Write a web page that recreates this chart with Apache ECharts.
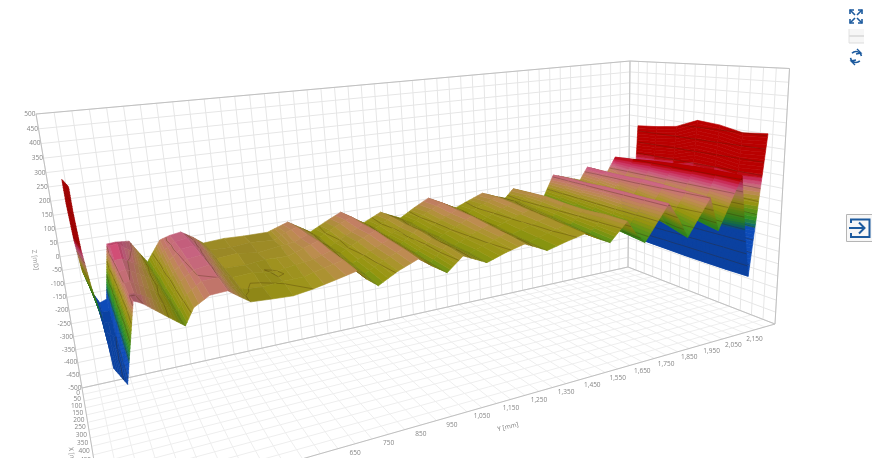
<!DOCTYPE html><html><head><meta charset="utf-8"><style>html,body{margin:0;background:#fff}#c{width:872px;height:458px}</style>
<script src="https://cdn.jsdelivr.net/npm/echarts@6/dist/echarts.min.js"></script></head><body><div id="c"></div><script>
// ---- values ----
const yTicks=[650,750,850,950,1050,1150,1250,1350,1450,1550,1650,1750,1850,1950,2050,2150];
const xTicks=[0,50,100,150,200,250,300,350,400,450];
const zTicks=[-500,-450,-400,-350,-300,-250,-200,-150,-100,-50,0,50,100,150,200,250,300,350,400,450,500];
const yBack=[39,40,45,54,74,89,110,134,158,198,220,243,288,319,354,389,419,486,549,629,665,700,739,775,829,888,926,969,1002,1035,1074,1110,1166,1224,1279,1332,1391,1447,1498,1546,1582,1647,1717,1765,1831,1892,1927,2025,2065,2112,2154,2179];
const yFront=[51,52,57,67,80,76,101,141,152,163,207,252,277,319,364,391,418,473,529,584,647,709,734,767,828,891,933,978,1007,1031,1072,1108,1175,1238,1281,1317,1388,1457,1506,1552,1618,1654,1691,1786,1831,1870,1964,2005,2104,2129,2154,2215];
const xEnd=[260,260,260,300,380,710,710,710,710,710,710,710,710,710,710,710,710,710,710,710,710,710,710,710,710,710,710,710,710,710,710,710,710,710,710,710,710,710,710,710,710,710,710,710,710,710,710,710,710,710,710,710];
const zRows=[
[296,296,296,296,296,296,296],[214,214,214,214,214,214,214],[89,89,89,89,89,89,89],[-21,-21,-21,-21,-21,-21,-21],[-106,-106,-106,-106,-106,-106,-106],
[-143,-140,-135,-130,-125,-118,-112],[-134,-140,-145,-150,-155,-160,-165],[58,78,58,52,50,48,64],[60,82,60,56,50,48,58],[56,50,40,40,36,40,50],
[14,18,12,16,8,10,8],[-28,-30,-26,-32,-28,-30,-34],[43,36,30,26,24,18,13],[54,58,60,56,52,48,40],[60,64,64,60,58,50,43],
[34,42,38,30,24,18,20],[7,10,8,4,6,2,-2],[12,6,14,4,10,-4,-6],[9,12,4,10,-2,2,-9],[9,6,14,8,10,4,0],
[22,28,20,26,18,20,14],[35,40,38,42,36,34,29],[8,14,10,8,4,0,-2],[-17,-12,-18,-14,-20,-24,-30],[12,18,12,16,10,8,4],
[41,46,42,44,38,36,30],[12,16,10,8,6,2,-2],[-16,-12,-18,-20,-24,-30,-33],[0,4,-2,2,-4,-2,-8],[16,20,18,22,16,18,12],
[-4,0,-6,-2,-8,-6,-8],[-21,-18,-22,-20,-24,-22,-26],[12,16,10,8,4,0,-4],[42,44,38,36,28,22,12],[10,14,8,6,-2,-4,-8],
[-17,-14,-20,-18,-22,-24,-26],[6,10,6,2,-2,-4,-8],[27,32,28,22,18,12,7],[6,8,2,-4,-10,-18,-20],[-10,-6,-14,-20,-28,-36,-43],
[25,28,30,24,20,24,22],[-4,-6,-10,-14,-20,-24,-30],[-37,-40,-44,-50,-56,-62,-69],[57,60,58,62,60,58,58],[36,30,24,16,12,6,-10],
[16,10,0,-20,-40,-60,-84],[69,66,64,66,62,56,51],[32,10,-10,-30,-50,-66,-82],[95,100,108,112,116,116,113],[-200,-190,-170,-150,-135,-122,-115],
[-290,-292,-294,-296,-296,-296,-294],[223,230,242,278,270,250,258]];
// ---- camera: pixel corners of the box ----
const A=[82,388],B=[36,114],C=[628,267],D=[630,61],E=[775,324];
const Ymin=0,Ymax=2250,Xmax=750,xBackPos=130,gridStep=50;
function solve3(M,b){const m=M.map((r,i)=>[...r,b[i]]);for(let i=0;i<3;i++){let p=i;for(let k=i;k<3;k++)if(Math.abs(m[k][i])>Math.abs(m[p][i]))p=k;[m[i],m[p]]=[m[p],m[i]];for(let k=0;k<3;k++)if(k!=i){const f=m[k][i]/m[i][i];for(let j=i;j<4;j++)m[k][j]-=f*m[i][j];}}return m.map((r,i)=>r[3]/r[i]);}
const h=p=>[p[0],p[1],1];
const s=solve3([[C[0],B[0],-D[0]],[C[1],B[1],-D[1]],[1,1,-1]],h(A));const al=s[0],ga=s[1],ep=1.087;
const P0=h(A),P1=h(C).map((x,i)=>al*x-P0[i]),P2=h(E).map((x,i)=>ep*x-al*h(C)[i]),P3=h(B).map((x,i)=>ga*x-P0[i]);
function proj(Y,X,Z){const u=(Y-Ymin)/(Ymax-Ymin),v=X/Xmax,t=(Z+500)/1000;const q=[0,1,2].map(i=>P0[i]+u*P1[i]+v*P2[i]+t*P3[i]);return [q[0]/q[2],q[1]/q[2]];}
// ---- colour ramp ----
const ramp=[[-110,[12,72,176]],[-95,[16,106,96]],[-70,[47,138,32]],[-35,[95,140,20]],[-15,[140,140,14]],[5,[154,142,30]],[30,[180,130,80]],[60,[192,96,124]],[80,[192,44,90]],[100,[176,0,0]]];
function rgb(z,m){let c;if(z<=ramp[0][0])c=ramp[0][1];else if(z>=ramp[ramp.length-1][0])c=ramp[ramp.length-1][1];else{for(let i=0;i<ramp.length-1;i++)if(z<=ramp[i+1][0]){const f=(z-ramp[i][0])/(ramp[i+1][0]-ramp[i][0]);c=ramp[i][1].map((x,k)=>x+f*(ramp[i+1][1][k]-x));break;}}
return 'rgb('+c.map(x=>Math.min(255,Math.round(x*m))).join(',')+')';}
const lerp=(a,b,f)=>a+(b-a)*f;
const nodeAt=(i,j)=>{const f=j/6;return [lerp(yBack[i],yFront[i],f),lerp(xBackPos,xEnd[i],f),zRows[i][j]];};
// paint order: far rows first, back columns first
const cells=[];for(let i=zRows.length-2;i>=0;i--)for(let j=0;j<6;j++)cells.push([i,j]);
function renderCell(p,api){const i=api.value(0),j=api.value(1);
 const a=nodeAt(i,j),b=nodeAt(i,j+1),c=nodeAt(i+1,j+1),d=nodeAt(i+1,j);
 const ns=Math.max(1,Math.min(40,Math.ceil(Math.max(Math.abs(d[2]-a[2]),Math.abs(c[2]-b[2]))/10)));
 const dY=Math.max(1,(d[0]+c[0]-a[0]-b[0])/2),dX=Math.max(1,(b[1]+c[1]-a[1]-d[1])/2);
 const sy=((d[2]+c[2]-a[2]-b[2])/2)/dY,sx=((b[2]+c[2]-a[2]-d[2])/2)/dX;
 let m=0.98+0.07*Math.tanh(sy*6);m+=Math.max(-0.06,Math.min(0.08,-sx*0.5))/(1+Math.abs(sy)*2);
 const kids=[];
 for(let k=0;k<ns;k++){const f0=k/ns,f1=(k+1)/ns;const pt=(q,r,f)=>proj(lerp(q[0],r[0],f),lerp(q[1],r[1],f),lerp(q[2],r[2],f));
  const pts=[pt(a,d,f0),pt(b,c,f0),pt(b,c,f1),pt(a,d,f1)];const zc=(lerp(a[2],d[2],(f0+f1)/2)+lerp(b[2],c[2],(f0+f1)/2))/2;const col=rgb(zc,m);
  kids.push({type:'polygon',shape:{points:pts},style:{fill:col,stroke:col,lineWidth:0.6}});}
 [[a,b,c],[a,c,d]].forEach(t=>{const lo=Math.min(t[0][2],t[1][2],t[2][2]),hi=Math.max(t[0][2],t[1][2],t[2][2]);
  for(let L=Math.ceil(lo/50)*50;L<=hi;L+=50){const seg=[];for(let e=0;e<3;e++){const q=t[e],r=t[(e+1)%3];if((q[2]-L)*(r[2]-L)<0||(q[2]===L&&r[2]!==L)){const f=(L-q[2])/(r[2]-q[2]);seg.push(proj(lerp(q[0],r[0],f),lerp(q[1],r[1],f),L));}}
   if(seg.length>=2)kids.push({type:'line',shape:{x1:seg[0][0],y1:seg[0][1],x2:seg[1][0],y2:seg[1][1]},style:{stroke:'rgba(60,35,0,0.42)',lineWidth:0.7}});}});
 return {type:'group',children:kids};}
// ---- box ----
const lines=[];const gy=[],gx=[],gz=zTicks.slice();for(let y=Ymin;y<=Ymax;y+=gridStep)gy.push(y);for(let x=0;x<=Xmax;x+=gridStep)gx.push(x);
const soft='#e6e6e6',floor='#eeeeee',edge='#c0c0c0';
gy.forEach(y=>{lines.push([[y,0,-500],[y,0,500],soft]);lines.push([[y,0,-500],[y,Xmax,-500],floor]);});
gx.forEach(x=>{lines.push([[Ymin,x,-500],[Ymax,x,-500],floor]);lines.push([[Ymax,x,-500],[Ymax,x,500],soft]);});
gz.forEach(z=>{lines.push([[Ymin,0,z],[Ymax,0,z],soft]);lines.push([[Ymax,0,z],[Ymax,Xmax,z],soft]);});
[[[Ymin,0,500],[Ymax,0,500]],[[Ymin,0,-500],[Ymin,0,500]],[[Ymin,0,-500],[Ymax,0,-500]],[[Ymax,0,-500],[Ymax,0,500]],[[Ymax,0,500],[Ymax,Xmax,500]],[[Ymax,0,-500],[Ymax,Xmax,-500]],[[Ymax,Xmax,-500],[Ymax,Xmax,500]],[[Ymin,Xmax,-500],[Ymax,Xmax,-500]],[[Ymin,0,-500],[Ymin,Xmax,-500]]].forEach(l=>lines.push([l[0],l[1],edge]));
const fmt=n=>String(n).replace(/\B(?=(\d{3})+(?!\d))/g,',');
const txt=(x,y,t,o)=>{o=o||{};return {type:'text',x,y,rotation:o.rotation||0,style:{text:t,fill:'#858585',font:"6.5px 'Open Sans'",textAlign:o.align||'center',textVerticalAlign:'middle'}};};
const labels=[];
yTicks.forEach(y=>{const q=proj(y,Xmax,-500);labels.push(txt(q[0],q[1]+9,fmt(y)));});
zTicks.forEach(z=>{const q=proj(Ymin,0,z);labels.push(txt(q[0]-0.5,q[1],String(z),{align:'right'}));});
xTicks.forEach(x=>{const q=proj(Ymin,x,-500);labels.push(txt(q[0]-2,q[1]+5,String(x),{align:'right'}));});
labels.push(txt(508,427,'Y [mm]',{rotation:0.24}));
labels.push(txt(35,260,'Z [mD]',{rotation:-1.45}));
labels.push(txt(72,458,'X [mm]',{rotation:-1.45}));
const blue='#1c5a9e';
const pl=(pts,w,c)=>({type:'polyline',shape:{points:pts},style:{stroke:c||blue,lineWidth:w||1.6,fill:null}});
const graphic=[
 pl([[850,14],[850,10],[854,10]]),pl([[850,10],[855,15]]),pl([[858,10],[862,10],[862,14]]),pl([[862,10],[857,15]]),
 pl([[850,19],[850,23],[854,23]]),pl([[850,23],[855,18]]),pl([[862,19],[862,23],[858,23]]),pl([[862,23],[857,18]]),
 {type:'rect',shape:{x:849,y:29,width:15,height:14},style:{fill:'#f6f6f6',stroke:null}},pl([[849,36],[864,36]],1,'#c8c8c8'),pl([[849,43],[864,43]],1,'#ddd'),pl([[849,29],[849,43]],1,'#e2e2e2'),
 {type:'arc',shape:{cx:856,cy:57,r:5.5,startAngle:3.9,endAngle:6.1},style:{stroke:blue,lineWidth:1.6,fill:null}},pl([[857,49],[861,53],[856,54]],1.4),
 {type:'arc',shape:{cx:856,cy:57,r:5.5,startAngle:0.8,endAngle:3.0},style:{stroke:blue,lineWidth:1.6,fill:null}},pl([[855,65],[851,61],[856,60]],1.4),
 {type:'rect',shape:{x:846.5,y:214.5,width:30,height:27},style:{fill:'#f7f7f7',stroke:'#b5b5b5',lineWidth:1}},
 pl([[851,223],[851,219.5],[869.5,219.5],[869.5,237],[851,237],[851,233]],2),pl([[849,228],[864,228]],2),pl([[859,222.5],[864.5,228],[859,233.5]],2)
];
const c=echarts.init(document.getElementById('c'));
c.setOption({animation:false,graphic:{elements:graphic},series:[
 {type:'custom',coordinateSystem:'none',silent:true,z:1,data:lines.map((l,i)=>i),renderItem:(p,api)=>{const l=lines[api.value(0)];const a=proj(...l[0]),b=proj(...l[1]);return {type:'line',shape:{x1:a[0],y1:a[1],x2:b[0],y2:b[1]},style:{stroke:l[2],lineWidth:1}}}},
 {type:'custom',coordinateSystem:'none',silent:true,z:2,progressive:0,data:cells,renderItem:renderCell},
 {type:'custom',coordinateSystem:'none',silent:true,z:3,data:labels.map((l,i)=>i),renderItem:(p,api)=>labels[api.value(0)]}
]});
</script></body></html>
